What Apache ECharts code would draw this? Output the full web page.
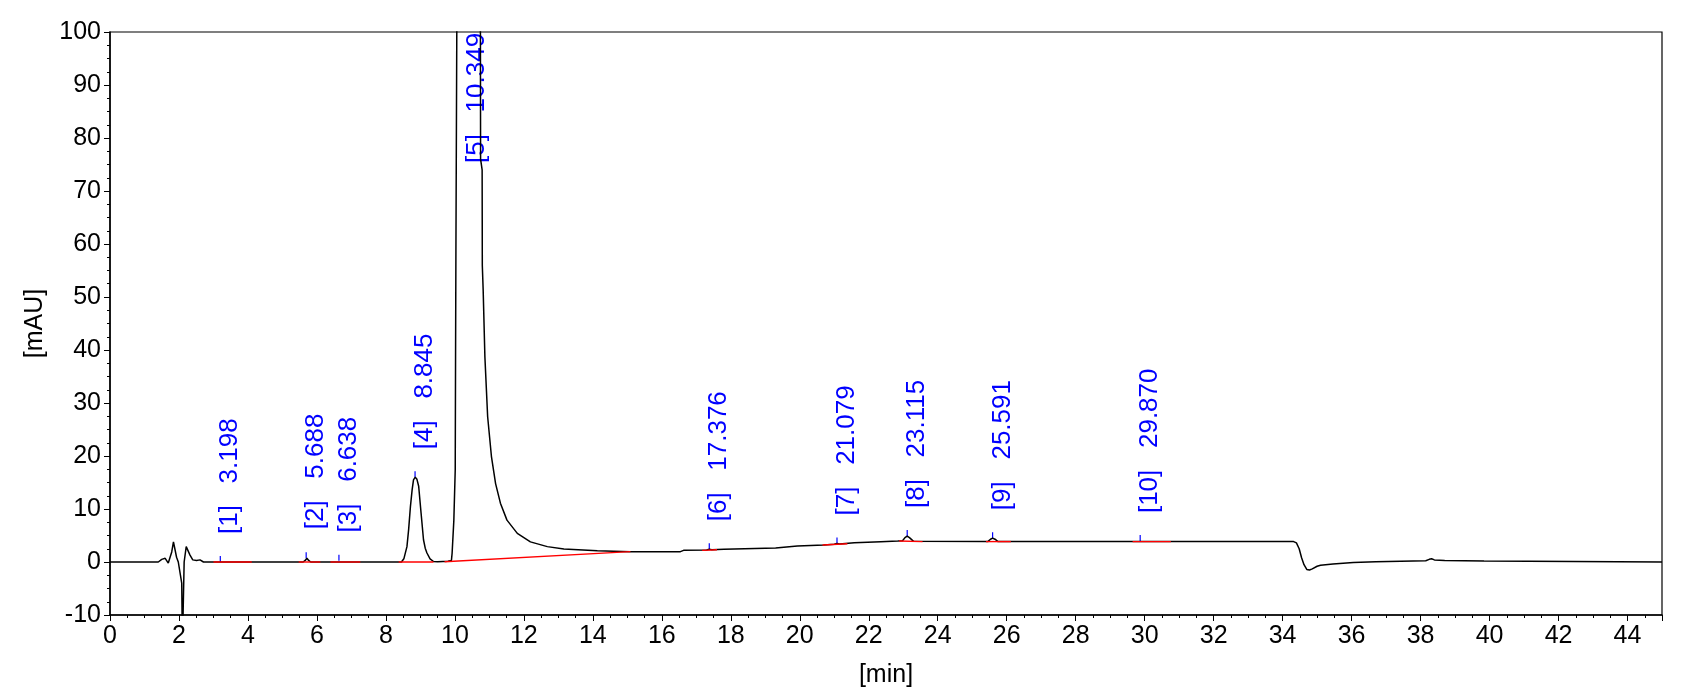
<!DOCTYPE html>
<html>
<head>
<meta charset="utf-8">
<script src="https://cdn.jsdelivr.net/npm/echarts@6/dist/echarts.min.js"></script>
<style>
html,body{margin:0;padding:0;background:#fff;}
#chart{width:1687px;height:694px;}
</style>
</head>
<body>
<div id="chart"></div>
<script>
// Chromatogram trace: retention time [min] and signal [mAU]
const traceTime = [
  0, 1.40, 1.50, 1.60, 1.69, 1.74, 1.79, 1.84, 1.89, 1.93, 1.98, 2.03, 2.08, 2.10, 2.13, 2.15,
  2.21, 2.26, 2.32, 2.40, 2.51, 2.61, 2.71, 3.19, 3.20, 3.21, 5.60, 5.66, 5.71, 5.76, 5.82,
  6.60, 6.64, 6.68, 8.45, 8.52, 8.61, 8.66, 8.71, 8.76, 8.80, 8.85, 8.90, 8.95, 9.02, 9.09,
  9.14, 9.19, 9.28, 9.38, 9.50, 9.65, 9.80, 9.90, 9.92, 9.97, 10.01, 10.02, 10.03, 10.06,
  10.15, 10.25, 10.349, 10.45, 10.60, 10.70, 10.74, 10.745, 10.79, 10.795, 10.82, 10.87,
  10.95, 11.06, 11.18, 11.32, 11.51, 11.81, 12.19, 12.68, 13.16, 14.13, 15.09, 16.54, 16.63,
  17.30, 17.376, 17.45, 17.80, 19.30, 19.35, 19.93, 20.70, 21.00, 21.079, 21.15, 21.58,
  22.35, 22.84, 22.98, 23.05, 23.115, 23.18, 23.30, 25.45, 25.53, 25.591, 25.66, 25.75,
  29.85, 29.87, 29.89, 34.32, 34.40, 34.48, 34.55, 34.62, 34.70, 34.78, 34.86, 35.00,
  35.10, 35.46, 35.50, 36.05, 36.10, 36.70, 36.75, 38.15, 38.25, 38.32, 38.40, 38.70,
  39.84, 39.88, 45
];
const traceSignal = [
  0, 0, 0.5, 0.7, -0.2, -0.3, 1.9, 3.8, 3.6, 0.9, 0, -0.3, -4, -16, -16, 0,
  2.9, 2.6, 1.3, 0.4, 0.3, 0.4, 0, 0, 0.1, 0, 0, 0.3, 0.7, 0.3, 0,
  0, 0.25, 0, 0, 0.6, 2.9, 6.2, 10.4, 13.6, 15.5, 16.0, 15.6, 14.3, 9.2, 4.2,
  2.6, 1.7, 0.6, 0.1, 0.05, 0.1, 0.15, 0.3, 1.7, 7.9, 17.4, 40, 59, 108,
  160, 230, 260, 230, 170, 118, 100, 76, 74, 56, 51.3, 38.7,
  27.4, 19.9, 14.8, 11.1, 7.9, 5.4, 3.8, 2.9, 2.45, 2.1, 1.95, 1.95, 2.2,
  2.25, 2.4, 2.3, 2.4, 2.65, 2.8, 3.0, 3.2, 3.35, 3.5, 3.4, 3.65,
  3.84, 3.96, 4.0, 4.6, 4.9, 4.6, 3.9, 3.85, 4.3, 4.5, 4.3, 3.85,
  3.85, 3.95, 3.85, 3.85, 3.6, 2.5, 0.8, -0.5, -1.4, -1.5, -1.3, -0.8,
  -0.6, -0.4, -0.3, -0.1, 0, 0.06, 0.2, 0.25, 0.5, 0.6, 0.4, 0.3,
  0.2, 0, 0
];

// Detected peaks
const peakNumbers = [1, 2, 3, 4, 5, 6, 7, 8, 9, 10];
const peakTimes   = [3.198, 5.688, 6.638, 8.845, 10.349, 17.376, 21.079, 23.115, 25.591, 29.870];
const peakApex    = [0.0, 0.7, 0.25, 16.0, 260, 2.4, 3.5, 4.9, 4.5, 3.95];
const peakLabelAt = [0.0, 0.9, 0.3, 16.0, 70.0, 2.4, 3.5, 4.9, 4.5, 3.95];

// Integration baselines (start time, start value, end time, end value)
const baseStartT = [3.00, 5.47, 6.39, 8.37, 9.70, 17.17, 20.66, 22.88, 25.40, 29.65];
const baseStartV = [0, 0, 0, 0, 0.06, 2.2, 3.2, 3.95, 3.85, 3.85];
const baseEndT   = [4.11, 6.10, 7.26, 9.38, 15.09, 17.60, 21.38, 23.56, 26.12, 30.76];
const baseEndV   = [0, 0, 0, 0, 1.95, 2.3, 3.45, 3.85, 3.85, 3.85];

const FONT = '"Liberation Sans", Arial, sans-serif';

const traceData = traceTime.map((t, i) => [t, traceSignal[i]]);
const peakData = peakTimes.map((t, i) => [t, peakApex[i], peakLabelAt[i], peakNumbers[i]]);
const baseData = baseStartT.map((t, i) => [t, baseStartV[i], baseEndT[i], baseEndV[i]]);

const chart = echarts.init(document.getElementById('chart'), null, {renderer: 'canvas'});
chart.setOption({
  animation: false,
  backgroundColor: '#fff',
  grid: {left: 110, right: 25, top: 32, bottom: 79, show: true, borderColor: '#000', borderWidth: 1.2},
  xAxis: {
    type: 'value', min: 0, max: 45, interval: 2,
    name: '[min]', nameLocation: 'middle', nameGap: 48,
    nameTextStyle: {fontFamily: FONT, fontSize: 25, color: '#000'},
    axisLine: {onZero: false, lineStyle: {color: '#000', width: 1.5}},
    axisTick: {show: true, length: 6, lineStyle: {color: '#000', width: 1}},
    minorTick: {show: true, splitNumber: 4, length: 3, lineStyle: {color: '#000', width: 1}},
    axisLabel: {fontFamily: FONT, fontSize: 25, color: '#000', margin: 9,
      showMaxLabel: false},
    splitLine: {show: false}
  },
  yAxis: {
    type: 'value', min: -10, max: 100, interval: 10,
    name: '[mAU]', nameLocation: 'middle', nameGap: 62, nameRotate: 90,
    nameTextStyle: {fontFamily: FONT, fontSize: 25, color: '#000'},
    axisLine: {onZero: false, lineStyle: {color: '#000', width: 1.5}},
    axisTick: {show: true, length: 6, lineStyle: {color: '#000', width: 1}},
    minorTick: {show: true, splitNumber: 4, length: 3, lineStyle: {color: '#000', width: 1}},
    axisLabel: {fontFamily: FONT, fontSize: 25, color: '#000', margin: 9},
    splitLine: {show: false}
  },
  series: [
    {
      type: 'custom', name: 'peaks', z: 1, clip: false,
      data: peakData,
      renderItem: function (params, api) {
        const t = api.value(0), apex = api.value(1), lab = api.value(2), n = api.value(3);
        const pl = api.coord([t, lab]);
        const children = [];
        if (apex < 100) {
          const pa = api.coord([t, apex]);
          children.push({type: 'line', shape: {x1: pa[0], y1: pa[1], x2: pa[0], y2: pa[1] - 6},
            style: {stroke: '#0000ff', lineWidth: 1.2}});
        }
        const txt = '[' + n + ']   ' + peakTimes[params.dataIndex].toFixed(3);
        children.push({type: 'text', x: pl[0] - 3, y: pl[1] - 28, rotation: Math.PI / 2,
          style: {text: txt, fill: '#0000ff', font: '26px ' + FONT, align: 'left', verticalAlign: 'top'}});
        return {type: 'group', children: children};
      }
    },
    {
      type: 'line', name: 'trace', z: 2, data: traceData, showSymbol: false, clip: true,
      lineStyle: {color: '#000', width: 1.5}, itemStyle: {color: '#000'}
    },
    {
      type: 'custom', name: 'baselines', z: 3,
      data: baseData,
      renderItem: function (params, api) {
        const a = api.coord([api.value(0), api.value(1)]);
        const b = api.coord([api.value(2), api.value(3)]);
        return {type: 'line', shape: {x1: a[0], y1: a[1], x2: b[0], y2: b[1]},
          style: {stroke: '#ff0000', lineWidth: 1.4}};
      }
    }
  ]
});
</script>
</body>
</html>
